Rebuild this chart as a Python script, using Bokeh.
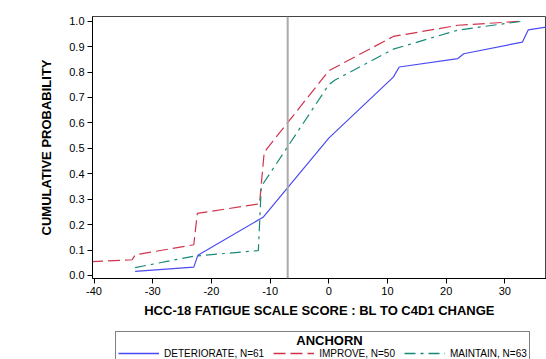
from bokeh.plotting import figure
from bokeh.layouts import column
from bokeh.models import Span, Legend, LegendItem, FixedTicker, Range1d, Label
from bokeh.embed import file_html
from bokeh.resources import INLINE

# Deteriorate (blue solid)
det_x = [-33, -23, -22.3, -11.2, 0, 11, 12, 22, 23, 33, 34, 37.1]
det_y = [0.016, 0.033, 0.080, 0.229, 0.540, 0.780, 0.820, 0.853, 0.872, 0.918, 0.966, 0.977]

# Improve (red dashed)
imp_x = [-40.5, -33.5, -33, -23, -22.4, -11.8, -11, 0, 11, 22, 33]
imp_y = [0.054, 0.062, 0.081, 0.121, 0.244, 0.282, 0.485, 0.805, 0.940, 0.984, 1.000]

# Maintain (teal dash-dot)
mai_x = [-33, -23, -12, -11.5, 0, 1, 11, 22, 33]
mai_y = [0.031, 0.076, 0.098, 0.350, 0.750, 0.768, 0.890, 0.965, 1.000]

ref_x = -7
x_ticks = [-40, -30, -20, -10, 0, 10, 20, 30]
x_tick_labels = {v: str(v) for v in x_ticks}
y_ticks = [0.0, 0.1, 0.2, 0.3, 0.4, 0.5, 0.6, 0.7, 0.8, 0.9, 1.0]
y_tick_labels = {v: f"{v:.1f}" for v in y_ticks}

series_labels = ["DETERIORATE, N=61", "IMPROVE, N=50", "MAINTAIN, N=63"]
series_colors = ["#4a4af2", "#d0344c", "#168a76"]
series_dash = ["solid", "12 5", "11 5 3 5"]
legend_title = "ANCHORN"

FONT = "Liberation Sans"

p = figure(width=546, height=323, output_backend="svg", toolbar_location=None,
           x_range=Range1d(-40.26, 37.1), y_range=Range1d(-0.0118, 1.0185),
           min_border_left=92, min_border_top=16, min_border_right=0, min_border_bottom=45)
p.grid.visible = False
p.background_fill_color = "white"
p.border_fill_color = "white"
p.outline_line_color = "#444444"
p.outline_line_width = 1

for ax in (p.xaxis[0], p.yaxis[0]):
    ax.major_label_text_font = FONT
    ax.major_label_text_font_size = "11px"
    ax.major_label_text_color = "black"
    ax.axis_label_text_font = FONT
    ax.axis_label_text_font_size = "13px"
    ax.axis_label_text_font_style = "bold"
    ax.axis_label_text_color = "black"
    ax.axis_line_color = "black"
    ax.major_tick_line_color = "black"
    ax.major_tick_out = 5
    ax.major_tick_in = 0
    ax.minor_tick_line_color = None

p.xaxis.ticker = FixedTicker(ticks=x_ticks)
p.yaxis.ticker = FixedTicker(ticks=y_ticks)
p.xaxis.major_label_overrides = x_tick_labels
p.yaxis.major_label_overrides = y_tick_labels
p.xaxis.axis_label = "HCC-18 FATIGUE SCALE SCORE : BL TO C4D1 CHANGE"
p.yaxis.axis_label = "CUMULATIVE PROBABILITY"
p.xaxis.major_label_standoff = 3
p.yaxis.major_label_standoff = 3
p.xaxis.axis_label_standoff = 5
p.yaxis.axis_label_standoff = 12

p.add_layout(Span(location=ref_x, dimension="height", line_color="#a9a9a9", line_width=2))

p.line(det_x, det_y, line_color=series_colors[0], line_width=1.2, line_dash=series_dash[0])
p.line(imp_x, imp_y, line_color=series_colors[1], line_width=1.2, line_dash=series_dash[1])
p.line(mai_x, mai_y, line_color=series_colors[2], line_width=1.2, line_dash=series_dash[2])

# Legend strip below the chart (its frame is aligned with the chart's frame)
lf = figure(width=546, height=36, output_backend="svg", toolbar_location=None,
            x_range=Range1d(0, 1), y_range=Range1d(0, 1),
            x_axis_location=None, y_axis_location=None,
            min_border_left=0, min_border_right=0, min_border_top=0, min_border_bottom=0)
lf.grid.visible = False
lf.outline_line_color = None
lf.background_fill_color = "white"
lf.border_fill_color = "white"

nan = float("nan")
items = []
for lab, col, dash in zip(series_labels, series_colors, series_dash):
    r = lf.line(x=[nan, nan], y=[nan, nan], line_color=col, line_width=1.3, line_dash=dash)
    items.append(LegendItem(label=lab, renderers=[r]))

legend = Legend(items=items, location=(23, -3), orientation="horizontal",
                title=" ", title_text_font=FONT, title_text_font_size="11px", title_standoff=1,
                label_text_font=FONT, label_text_font_size="10px", label_text_color="black",
                glyph_width=41, glyph_height=12, label_height=12, label_standoff=5,
                spacing=9, padding=2, margin=0,
                border_line_color="black", border_line_width=1, background_fill_alpha=0)
lf.add_layout(legend, "center")
lf.add_layout(Label(x=237, y=19, x_units="screen", y_units="screen", text=legend_title,
                    text_align="center", text_baseline="middle", text_font=FONT,
                    text_font_size="13px", text_font_style="bold", text_color="black",
                    level="overlay"))

layout = column(p, lf, spacing=0)
open("out.html", "w").write(file_html(layout, INLINE))
